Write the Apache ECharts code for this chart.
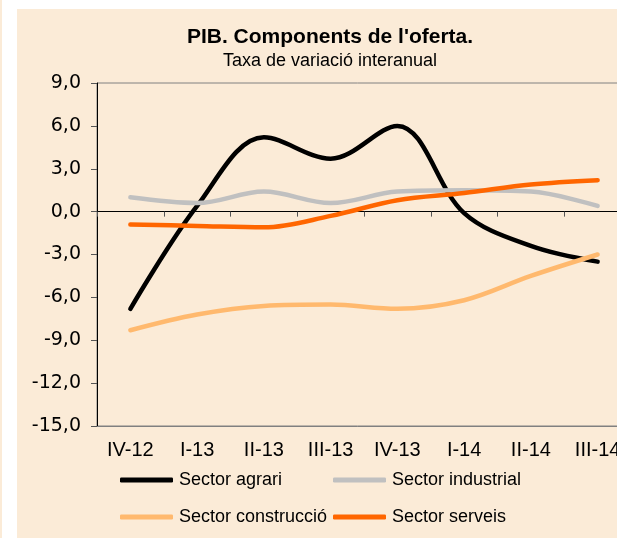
<!DOCTYPE html>
<html>
<head>
<meta charset="utf-8">
<script src="https://cdn.jsdelivr.net/npm/echarts@6/dist/echarts.min.js"></script>
<style>
  html, body { margin: 0; padding: 0; background: #ffffff; }
  #main { width: 617px; height: 538px; }
</style>
</head>
<body>
<div id="main"></div>
<script>
// trimestres
var quarters = ['IV-12', 'I-13', 'II-13', 'III-13', 'IV-13', 'I-14', 'II-14', 'III-14'];

// taxa de variació interanual (%)
var sectorAgrari = [-6.8, 0.4, 5.2, 3.7, 6.0, -0.1, -2.4, -3.5];
var sectorIndustrial = [1.0, 0.6, 1.4, 0.6, 1.4, 1.5, 1.4, 0.4];
var sectorConstruccio = [-8.3, -7.2, -6.6, -6.5, -6.8, -6.2, -4.5, -3.0];
var sectorServeis = [-0.9, -1.0, -1.1, -0.3, 0.8, 1.3, 1.9, 2.2];

var yTicks = { min: -15, max: 9, interval: 3 };

var panel = '#FBEBD7';
var font = 'Liberation Sans, Arial, sans-serif';

function lineSeries(name, data, color) {
    return {
        name: name,
        type: 'line',
        data: data,
        xAxisIndex: 0,
        smooth: 0.35,
        symbol: 'none',
        itemStyle: { color: color },
        lineStyle: { color: color, width: 4.5, cap: 'round', join: 'round' },
        z: 3
    };
}

function legendItem(name, left, top) {
    return {
        data: [name],
        left: left,
        top: top,
        padding: 0,
        icon: 'roundRect',
        itemWidth: 53,
        itemHeight: 5,
        selectedMode: false,
        textStyle: { fontFamily: font, fontSize: 18, color: '#000', padding: [0, 0, 0, 1] }
    };
}

var chart = echarts.init(document.getElementById('main'));

var option = {
    animation: false,
    backgroundColor: '#ffffff',
    graphic: [
        { type: 'rect', left: 17, top: 9, shape: { width: 600, height: 529 }, style: { fill: panel }, z: -10, silent: true },
        { type: 'rect', left: 0, top: 0, shape: { width: 2, height: 538 }, style: { fill: panel }, z: -10, silent: true }
    ],
    title: {
        text: "PIB. Components de l'oferta.",
        subtext: 'Taxa de variació interanual',
        left: 330,
        top: 27,
        padding: 0,
        textAlign: 'center',
        itemGap: 4,
        textStyle: { fontFamily: font, fontSize: 21, fontWeight: 'bold', color: '#000' },
        subtextStyle: { fontFamily: font, fontSize: 18, color: '#000' }
    },
    legend: [
        legendItem('Sector agrari', 120, 471),
        legendItem('Sector industrial', 333, 471),
        legendItem('Sector construcció', 120, 508),
        legendItem('Sector serveis', 333, 508)
    ],
    grid: {
        left: 97,
        width: 534,
        top: 83,
        height: 343,
        outerBoundsMode: 'none',
        containLabel: false,
        show: true,
        backgroundColor: 'transparent',
        borderColor: '#808080',
        borderWidth: 1
    },
    xAxis: [{
        type: 'category',
        data: quarters,
        position: 'bottom',
        boundaryGap: true,
        axisLine: { onZero: false, lineStyle: { color: '#808080', width: 1 } },
        axisTick: { show: false },
        axisLabel: { fontFamily: font, fontSize: 20, color: '#000', margin: 14, interval: 0 },
        splitLine: { show: false }
    }, {
        type: 'category',
        data: quarters,
        position: 'bottom',
        boundaryGap: true,
        axisLine: { onZero: true, lineStyle: { color: '#000', width: 1 } },
        axisTick: { show: true, length: 5, lineStyle: { color: '#555' } },
        axisLabel: { show: false },
        splitLine: { show: false }
    }],
    yAxis: {
        type: 'value',
        min: yTicks.min,
        max: yTicks.max,
        interval: yTicks.interval,
        axisLine: { show: true, lineStyle: { color: '#000', width: 1 } },
        axisTick: { show: true, length: 6, lineStyle: { color: '#555' } },
        splitLine: { show: false },
        axisLabel: {
            fontFamily: 'DejaVu Sans',
            fontSize: 19,
            color: '#000',
            margin: 16,
            formatter: function (v) { return v.toFixed(1).replace('.', ','); }
        }
    },
    series: [
        lineSeries('Sector agrari', sectorAgrari, '#000000'),
        lineSeries('Sector industrial', sectorIndustrial, '#C0C0C0'),
        lineSeries('Sector construcció', sectorConstruccio, '#FFB96E'),
        lineSeries('Sector serveis', sectorServeis, '#FF6600')
    ]
};

chart.setOption(option);
</script>
</body>
</html>
